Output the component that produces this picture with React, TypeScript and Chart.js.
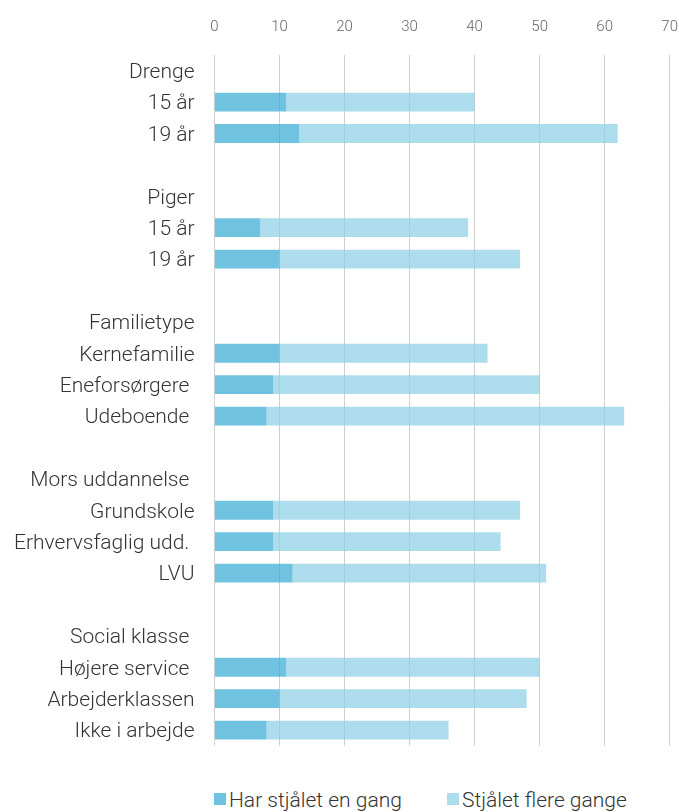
import React, { useEffect, useRef } from "react";
import { Chart, registerables } from "chart.js";

Chart.register(...registerables);

const categories: string[] = [
  "Drenge",
  "15 år",
  "19 år",
  "",
  "Piger",
  "15 år",
  "19 år",
  "",
  "Familietype",
  "Kernefamilie",
  "Eneforsørgere ",
  "Udeboende ",
  "",
  "Mors uddannelse ",
  "Grundskole",
  "Erhvervsfaglig udd. ",
  "LVU",
  "",
  "Social klasse ",
  "Højere service ",
  "Arbejderklassen",
  "Ikke i arbejde",
];

const stoleOnce: (number | null)[] = [
  null, 11, 13, null, null, 7, 10, null, null, 10, 9, 8, null, null, 9, 9, 12, null, null, 11, 10, 8,
];

const stoleSeveral: (number | null)[] = [
  null, 29, 49, null, null, 32, 37, null, null, 32, 41, 55, null, null, 38, 35, 39, null, null, 39, 38, 28,
];

const seriesNames = ["Har stjålet en gang", "Stjålet flere gange"];
const xMin = 0;
const xMax = 70;
const xStep = 10;

const fillColors = ["rgba(51,169,211,0.7)", "rgba(138,205,228,0.7)"];
const legendColors = ["#70C3E0", "#ADDCEC"];

export default function App() {
  const canvasRef = useRef<HTMLCanvasElement | null>(null);

  useEffect(() => {
    const prevMargin = document.body.style.margin;
    document.body.style.margin = "0";
    if (!canvasRef.current) return;
    const chart = new Chart(canvasRef.current, {
      type: "bar",
      data: {
        labels: categories,
        datasets: [
          {
            label: seriesNames[0],
            data: stoleOnce,
            backgroundColor: fillColors[0],
            borderWidth: 0,
            barPercentage: 0.6,
            categoryPercentage: 1,
          },
          {
            label: seriesNames[1],
            data: stoleSeveral,
            backgroundColor: fillColors[1],
            borderWidth: 0,
            barPercentage: 0.6,
            categoryPercentage: 1,
          },
        ],
      },
      options: {
        indexAxis: "y",
        responsive: true,
        maintainAspectRatio: false,
        animation: false,
        layout: { padding: { top: 10, left: 6, right: 0, bottom: 4 } },
        scales: {
          x: {
            position: "top",
            stacked: true,
            min: xMin,
            max: xMax,
            ticks: {
              stepSize: xStep,
              color: "#666666",
              padding: 0,
              font: { family: "Roboto", size: 15, weight: 300 },
            },
            grid: {
              color: "#cfcfcf",
              lineWidth: 1,
              drawTicks: true,
              tickLength: 19,
              tickColor: "rgba(0,0,0,0)",
            },
            border: { display: false },
          },
          y: {
            stacked: true,
            grid: { display: false, drawTicks: true, tickLength: 20 },
            border: { display: false },
            ticks: {
              autoSkip: false,
              color: "#333333",
              padding: 0,
              labelOffset: 2,
              font: { family: "Roboto", size: 21, weight: 300, lineHeight: 0.5 },
            },
          },
        },
        plugins: {
          legend: { display: false },
          tooltip: { enabled: false },
        },
      },
    });
    return () => {
      chart.destroy();
      document.body.style.margin = prevMargin;
    };
  }, []);

  return (
    <div
      style={{
        fontFamily: "Roboto",
        padding: "8px 0 0 8px",
        width: 679,
        boxSizing: "border-box",
      }}
    >
      <div style={{ width: 670, height: 743, position: "relative" }}>
        <canvas ref={canvasRef} />
      </div>
      <div
        style={{
          display: "flex",
          alignItems: "center",
          marginTop: 38,
          paddingLeft: 206,
          fontSize: 21,
          fontWeight: 300,
          color: "#333333",
          lineHeight: "22px",
        }}
      >
        {seriesNames.map((name, i) => (
          <div
            key={name}
            style={{ display: "flex", alignItems: "center", width: i === 0 ? 233 : "auto" }}
          >
            <span
              style={{
                display: "inline-block",
                width: 12,
                height: 12,
                background: legendColors[i],
                marginRight: 3,
                marginTop: -2,
              }}
            />
            <span>{name}</span>
          </div>
        ))}
      </div>
    </div>
  );
}
